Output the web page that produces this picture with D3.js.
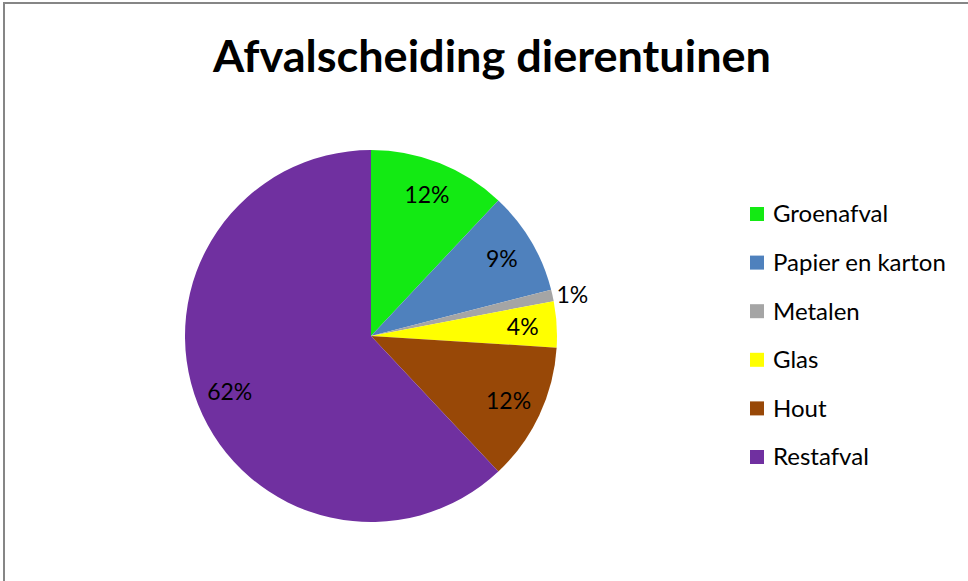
<!DOCTYPE html>
<html lang="nl">
<head>
<meta charset="UTF-8">
<title>Afvalscheiding dierentuinen</title>
<script src="https://d3js.org/d3.v7.min.js"></script>
<style>
  body { margin: 0; background: #fff; }
  svg { display: block; }
</style>
</head>
<body>
<svg id="chart" width="968" height="581"></svg>
<script>
// data
var categories = ["Groenafval", "Papier en karton", "Metalen", "Glas", "Hout", "Restafval"];
var values = [12, 9, 1, 4, 12, 62];
var colors = ["#13EA13", "#4F81BD", "#A5A5A5", "#FFFF00", "#984807", "#7030A0"];

var width = 968, height = 581;
var cx = 371, cy = 336, radius = 186;
var fontFam = "Lato, 'Open Sans', sans-serif";

var svg = d3.select("#chart");

// frame (only top and left edges visible)
svg.append("rect")
  .attr("x", 4).attr("y", 3)
  .attr("width", width + 20).attr("height", height + 20)
  .attr("fill", "none")
  .attr("stroke", "#868686")
  .attr("stroke-width", 2);

svg.append("text")
  .attr("x", 492).attr("y", 72)
  .attr("text-anchor", "middle")
  .attr("textLength", 558)
  .attr("lengthAdjust", "spacingAndGlyphs")
  .style("font-family", fontFam)
  .style("font-weight", "bold")
  .style("font-size", "43px")
  .text("Afvalscheiding dierentuinen");

var pie = d3.pie().sort(null).value(function(d) { return d.v; });
var data = categories.map(function(c, i) { return {name: c, v: values[i], color: colors[i]}; });
var arcs = pie(data);

var arc = d3.arc().innerRadius(0).outerRadius(radius);
var labelArc = d3.arc().innerRadius(152).outerRadius(152);

var g = svg.append("g").attr("transform", "translate(" + cx + "," + cy + ")");

g.selectAll("path")
  .data(arcs)
  .enter()
  .append("path")
  .attr("d", arc)
  .attr("fill", function(d) { return d.data.color; });

var total = d3.sum(values);
g.selectAll("text.lbl")
  .data(arcs)
  .enter()
  .append("text")
  .attr("class", "lbl")
  .each(function(d) {
    var t = d3.select(this);
    var pct = Math.round(d.data.v / total * 100) + "%";
    if (d.endAngle - d.startAngle < 0.1) {
      // small slice, label outside
      var a = (d.startAngle + d.endAngle) / 2;
      var r = 190;
      t.attr("x", Math.sin(a) * r).attr("y", -Math.cos(a) * r)
        .attr("text-anchor", "start");
    } else {
      var c = labelArc.centroid(d);
      t.attr("x", c[0]).attr("y", c[1]).attr("text-anchor", "middle");
    }
    t.attr("dy", "0.35em").text(pct);
  })
  .style("font-family", fontFam)
  .style("font-size", "23px")
  .style("fill", "#000");

// legend
var legend = svg.append("g").attr("transform", "translate(750,214)");
var item = legend.selectAll("g")
  .data(data)
  .enter()
  .append("g")
  .attr("transform", function(d, i) { return "translate(0," + (i * 48.6) + ")"; });

item.append("rect")
  .attr("x", 0).attr("y", -7)
  .attr("width", 14).attr("height", 14)
  .attr("fill", function(d) { return d.color; });

item.append("text")
  .attr("x", 23).attr("y", 0)
  .attr("dy", "0.35em")
  .style("font-family", fontFam)
  .style("font-size", "24px")
  .text(function(d) { return d.name; });
</script>
</body>
</html>
